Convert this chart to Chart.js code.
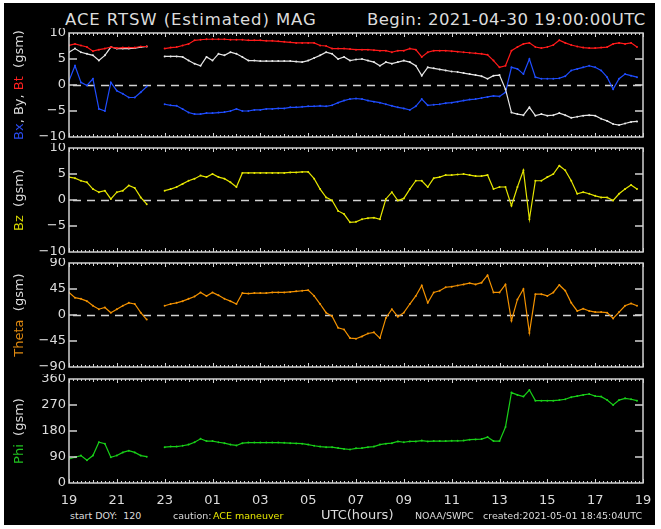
<!DOCTYPE html>
<html>
<head>
<meta charset="utf-8">
<script src="https://cdn.jsdelivr.net/npm/chart.js@4.4.1/dist/chart.umd.min.js"></script>
<style>
    html, body { margin: 0; padding: 0; background: #fff; }
    #page { position: relative; width: 661px; height: 529px; overflow: hidden; font-family: "DejaVu Sans", sans-serif; }
    #bg { position: absolute; left: 4px; top: 3px; width: 651px; height: 522px; background: #000; }
    canvas { position: absolute; left: 0; }
    .txt { position: absolute; color: #dcdcdc; white-space: pre; line-height: 1; }
</style>
</head>
<body>
<div id="page">
    <div id="bg"></div>
    <div class="txt" style="left:65px; top:12px; font-size:16.5px; letter-spacing:0.9px;">ACE RTSW (Estimated) MAG</div>
    <div class="txt" style="left:367px; top:12px; font-size:16.5px; letter-spacing:0.45px;">Begin: 2021-04-30 19:00:00UTC</div>

    <canvas id="p1" width="661" height="114" style="top:28px"></canvas>
    <canvas id="p2" width="661" height="114" style="top:143px"></canvas>
    <canvas id="p3" width="661" height="114" style="top:258px"></canvas>
    <canvas id="p4" width="661" height="135" style="top:374px"></canvas>

    <div class="txt" style="left:70px; top:511px; font-size:9.5px;">start DOY:  120</div>
    <div class="txt" style="left:173px; top:511px; font-size:9.5px;">caution:</div>
    <div class="txt" style="left:213px; top:511px; font-size:9.5px; color:#e8e800;">ACE maneuver</div>
    <div class="txt" style="left:321px; top:508px; font-size:13px;">UTC(hours)</div>
    <div class="txt" style="left:415px; top:511px; font-size:9.5px;">NOAA/SWPC</div>
    <div class="txt" style="left:483px; top:511px; font-size:9.5px;">created:2021-05-01 18:45:04UTC</div>
</div>
<script>
// hours since 19:00 UTC, every 15 minutes
const hours = Array.from({ length: 97 }, (_, i) => i / 4);

const btVals = [
    7.6, 7.9, 7.6, 7.3, 6.5, 6.8, 7.0, 7.3, 7.1, 7.2, 7.2, 7.2, 7.4, 7.4, null, null,
    7.0, 7.2, 7.3, 7.6, 7.9, 8.6, 8.7, 8.8, 8.8, 8.8, 8.8, 8.7, 8.7, 8.7, 8.6, 8.6,
    8.6, 8.5, 8.5, 8.4, 8.3, 8.2, 8.1, 8.1, 8.1, 8.1, 7.6, 7.5,
    7.0, 7.0, 7.0, 6.9, 6.8, 6.8, 6.8, 6.7, 6.6, 6.6, 6.3, 6.6, 6.6, 7.0, 6.8, 5.4,
    6.3, 6.6, 6.6, 6.6, 6.5, 6.4, 6.3, 6.2, 6.1, 6.0, 5.8, 4.7, 3.4, 3.7, 6.6, 7.3,
    7.9, 8.1, 7.3, 7.1, 7.3, 7.7, 8.6, 8.1, 7.7, 7.4, 7.2, 7.1, 7.1, 7.2, 7.3, 7.9,
    8.1, 7.9, 8.1, 7.3, null
];
const byVals = [
    6.3, 7.0, 6.3, 6.0, 5.7, 4.7, 5.7, 7.3, 7.0, 7.0, 7.0, 7.1, 7.3, 7.4, null, null,
    5.5, 5.5, 5.5, 5.4, 4.7, 4.1, 3.7, 5.4, 4.7, 6.0, 5.7, 6.3, 6.0, 5.4, 4.7, 4.7,
    4.6, 4.6, 4.6, 4.6, 4.6, 4.6, 4.5, 4.4, 4.7, 5.2, 5.7, 6.3,
    6.0, 5.0, 5.4, 4.7, 4.9, 5.0, 4.7, 4.4, 3.7, 4.4, 4.1, 4.4, 4.7, 4.4, 3.7, 1.8,
    3.4, 3.2, 3.0, 2.8, 2.6, 2.5, 2.3, 2.1, 1.9, 1.7, 1.2, 1.8, 1.9, -0.8, -5.3, -5.6,
    -5.8, -4.3, -5.9, -5.6, -5.9, -5.8, -5.4, -5.8, -6.3, -6.1, -5.9, -5.8, -5.9, -6.5, -6.9, -7.5,
    -7.7, -7.4, -7.1, -7.0, null
];
const bxVals = [
    0.8, 3.7, 0.5, -0.1, 1.2, -4.6, -5.0, 0.5, -1.1, -1.7, -2.4, -2.4, -1.4, -0.3, null, null,
    -3.7, -3.9, -4.0, -4.6, -5.3, -5.6, -5.6, -5.4, -5.4, -5.3, -5.2, -5.0, -4.6, -5.0, -5.0, -4.8,
    -4.8, -4.6, -4.6, -4.5, -4.5, -4.3, -4.3, -4.2, -4.1, -4.1, -4.0, -4.1,
    -3.9, -3.4, -3.0, -2.7, -2.6, -2.7, -3.0, -3.2, -3.4, -3.7, -4.0, -4.3, -4.5, -4.8, -4.1, -2.7,
    -3.9, -3.8, -3.7, -3.5, -3.4, -3.2, -3.0, -2.8, -2.7, -2.5, -2.3, -2.1, -2.2, -1.4, 3.4, 3.1,
    2.1, 5.0, 1.5, 1.2, 1.2, 1.2, 1.3, 1.7, 2.8, 3.1, 3.4, 3.7, 3.4, 2.8, 1.5, -0.8,
    1.2, 2.1, 1.8, 1.5, null
];
const bzVals = [
    4.4, 4.2, 3.7, 3.4, 2.1, 1.5, 1.8, 0.2, 1.5, 1.8, 2.8, 2.3, 0.5, -0.8, null, null,
    1.8, 2.1, 2.5, 3.1, 3.7, 4.1, 4.7, 4.4, 5.0, 4.4, 4.1, 3.4, 2.5, 5.2, 5.2, 5.2,
    5.2, 5.2, 5.2, 5.2, 5.2, 5.3, 5.3, 5.4, 5.4, 4.1, 2.1, 0.5,
    -0.1, -2.1, -2.7, -4.3, -4.2, -3.7, -3.5, -3.4, -3.7, 0.2, 1.5, -0.1, 0.3, 2.1, 3.7, 3.7,
    2.5, 4.2, 4.4, 4.8, 4.8, 4.9, 5.0, 4.8, 4.6, 4.6, 4.8, 2.1, 2.5, 2.5, -1.1, 2.5,
    5.7, -3.7, 3.7, 3.7, 4.4, 5.0, 6.6, 5.7, 3.7, 1.2, 1.5, 1.2, 0.8, 0.5, 0.5, -0.1,
    1.2, 2.1, 2.9, 2.1, null
];
const thetaVals = [
    39, 30, 28, 24, 16, 10, 13, 4, 10, 16, 21, 19, 4, -8, null, null,
    16, 19, 21, 24, 28, 32, 39, 33, 39, 34, 28, 24, 19, 38, 37, 38,
    38, 38, 39, 39, 39, 40, 41, 42, 43, 33, 19, 4,
    -2, -22, -25, -40, -41, -37, -32, -30, -40, -5, 10, -3, 4, 19, 33, 51,
    21, 39, 42, 48, 49, 51, 53, 55, 53, 56, 69, 39, 39, 53, -10, 27,
    45, -31, 36, 36, 33, 39, 52, 42, 21, 7, 11, 7, 5, 5, 4, -6,
    5, 16, 20, 16, null
];
const phiVals = [
    83, 89, 95, 79, 95, 141, 136, 89, 95, 106, 112, 106, 95, 91, null, null,
    124, 126, 126, 129, 133, 141, 153, 145, 145, 141, 138, 133, 130, 138, 140, 140,
    140, 140, 140, 140, 139, 138, 137, 136, 133, 129, 126, 124,
    124, 121, 118, 116, 120, 121, 124, 126, 133, 136, 138, 144, 141, 144, 144, 147,
    144, 145, 145, 145, 146, 146, 147, 150, 151, 152, 159, 145, 145, 194, 313, 305,
    299, 322, 285, 285, 285, 285, 287, 290, 297, 301, 305, 308, 301, 299, 287, 270,
    287, 293, 290, 285, null
];

// axis ticks
const bTicks = [10, 5, 0, -5, -10];
const thetaTicks = [90, 45, 0, -45, -90];
const phiTicks = [360, 270, 180, 90, 0];
const xTickHours = [0, 2, 4, 6, 8, 10, 12, 14, 16, 18, 20, 22, 24];
const xTickLabels = ['19', '21', '23', '01', '03', '05', '07', '09', '11', '13', '15', '17', '19'];

const LABEL = '#dcdcdc';
const FRAME = '#d2d2d2';

function pts(vals) {
    return hours.map((h, i) => ({ x: h, y: vals[i] }));
}

function series(vals, color) {
    return {
        data: pts(vals),
        borderColor: color,
        backgroundColor: color,
        borderWidth: 1.2,
        pointRadius: 1,
        pointBorderWidth: 0,
        tension: 0
    };
}

const magFrame = {
    id: 'magFrame',
    beforeDatasetsDraw(chart, args, o) {
        const { ctx, chartArea: a, scales: { y } } = chart;
        if (o.zero === null) return;
        ctx.save();
        ctx.strokeStyle = FRAME;
        ctx.lineWidth = 1.5;
        ctx.setLineDash([8, 6]);
        const y0 = Math.round(y.getPixelForValue(0)) + 0.5;
        ctx.beginPath();
        ctx.moveTo(a.left + 4, y0);
        ctx.lineTo(a.right, y0);
        ctx.stroke();
        ctx.restore();
    },
    afterDatasetsDraw(chart, args, o) {
        const { ctx, chartArea: a, scales: { x, y } } = chart;
        ctx.save();
        ctx.strokeStyle = FRAME;
        ctx.lineWidth = 1.5;
        ctx.strokeRect(a.left, a.top, a.width, a.height);

        // minor ticks on top and bottom edges, every 10 minutes
        ctx.lineWidth = 1;
        for (let m = 0; m <= 144; m++) {
            const px = Math.round(x.getPixelForValue(m / 6)) + 0.5;
            const len = m % 12 === 0 ? 4 : (m % 6 === 0 ? 3 : 2);
            ctx.beginPath();
            ctx.moveTo(px, a.top);
            ctx.lineTo(px, a.top + len);
            ctx.moveTo(px, a.bottom);
            ctx.lineTo(px, a.bottom - len);
            ctx.stroke();
        }

        // y ticks, left and right
        ctx.lineWidth = 1.5;
        o.ticks.slice(1, -1).forEach(v => {
            const py = Math.round(y.getPixelForValue(v));
            ctx.beginPath();
            ctx.moveTo(a.left, py);
            ctx.lineTo(a.left + 8, py);
            ctx.moveTo(a.right - 8, py);
            ctx.lineTo(a.right, py);
            ctx.stroke();
        });

        ctx.fillStyle = LABEL;
        ctx.font = '13px "DejaVu Sans"';
        ctx.textAlign = 'right';
        ctx.textBaseline = 'middle';
        o.ticks.forEach(v => {
            const txt = v < 0 ? '\u2212' + Math.abs(v) : String(v);
            ctx.fillText(txt, a.left - 3, y.getPixelForValue(v));
        });

        if (o.xLabels) {
            ctx.textAlign = 'center';
            ctx.font = '13px "DejaVu Sans"';
            xTickHours.forEach((h, i) => {
                ctx.fillText(xTickLabels[i], x.getPixelForValue(h), a.bottom + 18);
            });
        }

        // rotated multi-coloured axis title
        ctx.font = '13px "DejaVu Sans"';
        const total = o.title.reduce((s, p) => s + ctx.measureText(p[0]).width, 0);
        ctx.translate(20, (a.top + a.bottom) / 2);
        ctx.rotate(-Math.PI / 2);
        ctx.textAlign = 'left';
        let cx = -total / 2;
        o.title.forEach(p => {
            ctx.fillStyle = p[1];
            ctx.fillText(p[0], cx, 0);
            cx += ctx.measureText(p[0]).width;
        });
        ctx.restore();
    }
};

function makePanel(id, datasets, ymin, ymax, frameOpts, bottomPad) {
    return new Chart(document.getElementById(id), {
        type: 'line',
        data: { datasets: datasets },
        options: {
            responsive: false,
            animation: false,
            events: [],
            spanGaps: false,
            layout: { padding: { left: 69, right: 18, top: 5, bottom: bottomPad } },
            scales: {
                x: { type: 'linear', min: 0, max: 24, display: false },
                y: { min: ymin, max: ymax, display: false }
            },
            plugins: {
                legend: { display: false },
                tooltip: { enabled: false },
                magFrame: frameOpts
            }
        },
        plugins: [magFrame]
    });
}

makePanel('p1', [
    series(btVals, '#ff1a1a'),
    series(byVals, '#e6e6e6'),
    series(bxVals, '#1f4dff')
], -10, 10, {
    zero: 0, ticks: bTicks, xLabels: false,
    title: [['Bx', '#2a4cf0'], [', ', LABEL], ['By', LABEL], [', ', LABEL], ['Bt', '#ff2020'], ['  (gsm)', LABEL]]
}, 5);

makePanel('p2', [series(bzVals, '#e6e600')], -10, 10, {
    zero: 0, ticks: bTicks, xLabels: false,
    title: [['Bz', '#d8d800'], ['  (gsm)', LABEL]]
}, 5);

makePanel('p3', [series(thetaVals, '#f39200')], -90, 90, {
    zero: 0, ticks: thetaTicks, xLabels: false,
    title: [['Theta', '#e08a10'], ['  (gsm)', LABEL]]
}, 5);

makePanel('p4', [series(phiVals, '#18d018')], 0, 360, {
    zero: null, ticks: phiTicks, xLabels: true,
    title: [['Phi', '#20c020'], ['  (gsm)', LABEL]]
}, 26);
</script>
</body>
</html>
